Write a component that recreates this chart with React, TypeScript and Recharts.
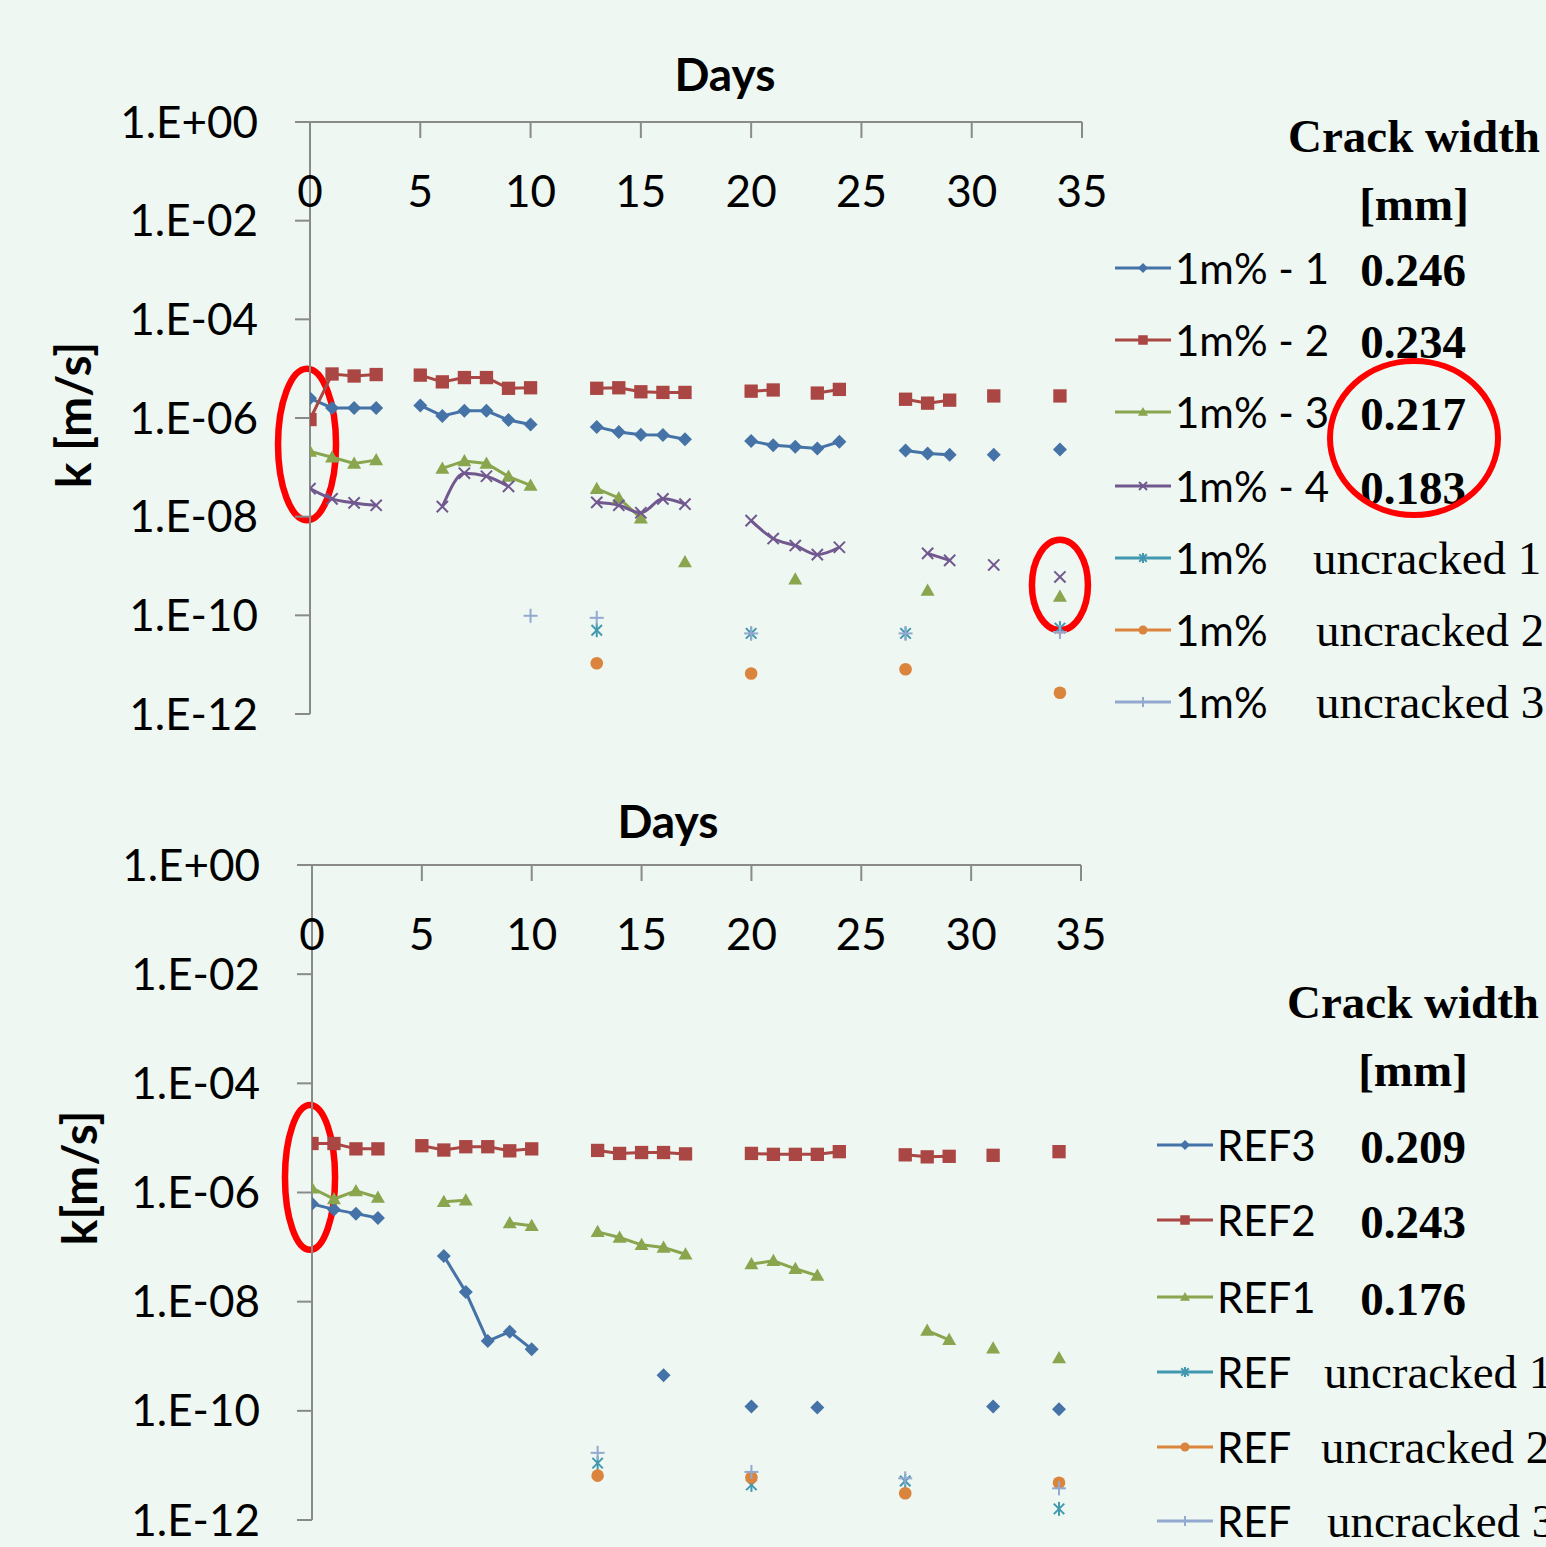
import { LineChart, Line, XAxis, YAxis, ReferenceArea } from 'recharts'

// ─── Data ─────────────────────────────────────────────────────────────────────

const _ = null

// days since cracking (shared x for both panels)
const DAYS = [
  0, 1, 2, 3, 4, 5, 6, 7, 8, 9, 10, 11, 12, 13, 14, 15, 16, 17,
  18, 19, 20, 21, 22, 23, 24, 25, 26, 27, 28, 29, 30, 31, 32, 33, 34,
]

const X_TICKS = [0, 5, 10, 15, 20, 25, 30, 35]
const Y_TICKS = [1, 1e-2, 1e-4, 1e-6, 1e-8, 1e-10, 1e-12]

// top panel: 1m% specimens, k [m/s]
const M1 = [
  2.5e-6, 1.6e-6, 1.6e-6, 1.6e-6, _, 1.8e-6, 1.1e-6, 1.4e-6, 1.4e-6, 9.1e-7,
  7.4e-7, _, _, 6.6e-7, 5.2e-7, 4.6e-7, 4.5e-7, 3.7e-7, _, _,
  3.4e-7, 2.8e-7, 2.6e-7, 2.4e-7, 3.3e-7, _, _, 2.2e-7, 1.9e-7, 1.8e-7,
  _, 1.8e-7, _, _, 2.3e-7,
]
const M2 = [
  9.3e-7, 7.8e-6, 7.1e-6, 7.6e-6, _, 7.4e-6, 5.4e-6, 6.6e-6, 6.6e-6, 4.0e-6,
  4.1e-6, _, _, 4.0e-6, 4.1e-6, 3.4e-6, 3.3e-6, 3.3e-6, _, _,
  3.5e-6, 3.7e-6, _, 3.2e-6, 3.8e-6, _, _, 2.4e-6, 2.0e-6, 2.3e-6,
  _, 2.8e-6, _, _, 2.8e-6,
]
const M3 = [
  2.1e-7, 1.6e-7, 1.2e-7, 1.4e-7, _, _, 9.5e-8, 1.35e-7, 1.2e-7, 6.5e-8,
  4.3e-8, _, _, 3.7e-8, 2.4e-8, 9.3e-9, _, 1.2e-9, _, _,
  _, _, 5.4e-10, _, _, _, _, _, 3.2e-10, _,
  _, _, _, _, 2.4e-10,
]
const M4 = [
  3.7e-8, 2.3e-8, 1.9e-8, 1.7e-8, _, _, 1.6e-8, 7.6e-8, 6.6e-8, 4.1e-8,
  _, _, _, 1.95e-8, 1.7e-8, 1.2e-8, 2.3e-8, 1.8e-8, _, _,
  8.3e-9, 3.6e-9, 2.6e-9, 1.7e-9, 2.4e-9, _, _, _, 1.8e-9, 1.3e-9,
  _, 1.05e-9, _, _, 6.0e-10,
]
const MU1 = [
  _, _, _, _, _, _, _, _, _, _, _, _, _, 5.0e-11, _, _, _, _, _, _,
  4.3e-11, _, _, _, _, _, _, 4.3e-11, _, _, _, _, _, _, 5.5e-11,
]
const MU2 = [
  _, _, _, _, _, _, _, _, _, _, _, _, _, 1.07e-11, _, _, _, _, _, _,
  6.6e-12, _, _, _, _, _, _, 8.1e-12, _, _, _, _, _, _, 2.7e-12,
]
const MU3 = [
  _, _, _, _, _, _, _, _, _, _, 9.8e-11, _, _, 8.9e-11, _, _, _, _, _, _,
  4.3e-11, _, _, _, _, _, _, 4.3e-11, _, _, _, _, _, _, 4.6e-11,
]

// bottom panel: REF specimens, k [m/s]
const R3 = [
  6.2e-7, 4.9e-7, 4.1e-7, 3.4e-7, _, _, 6.9e-8, 1.5e-8, 1.9e-9, 2.8e-9,
  1.35e-9, _, _, _, _, _, 4.5e-10, _, _, _,
  1.2e-10, _, _, 1.15e-10, _, _, _, _, _, _,
  _, 1.2e-10, _, _, 1.07e-10,
]
const R2 = [
  7.9e-6, 7.9e-6, 6.3e-6, 6.3e-6, _, 7.2e-6, 6.0e-6, 6.9e-6, 6.9e-6, 5.8e-6,
  6.3e-6, _, _, 5.9e-6, 5.2e-6, 5.4e-6, 5.4e-6, 5.1e-6, _, _,
  5.2e-6, 5.0e-6, 5.0e-6, 5.0e-6, 5.6e-6, _, _, 4.9e-6, 4.5e-6, 4.6e-6,
  _, 4.8e-6, _, _, 5.6e-6,
]
const R1 = [
  1.2e-6, 7.6e-7, 1.07e-6, 8.1e-7, _, _, 6.8e-7, 7.2e-7, _, 2.75e-7,
  2.45e-7, _, _, 1.9e-7, 1.5e-7, 1.1e-7, 9.8e-8, 7.4e-8, _, _,
  4.9e-8, 5.6e-8, 4.0e-8, 3.0e-8, _, _, _, _, 2.95e-9, 2.0e-9,
  _, 1.4e-9, _, _, 9.3e-10,
]
const RU1 = [
  _, _, _, _, _, _, _, _, _, _, _, _, _, 1.1e-11, _, _, _, _, _, _,
  4.4e-12, _, _, _, _, _, _, 5.2e-12, _, _, _, _, _, _, 1.6e-12,
]
const RU2 = [
  _, _, _, _, _, _, _, _, _, _, _, _, _, 6.5e-12, _, _, _, _, _, _,
  6.0e-12, _, _, _, _, _, _, 3.1e-12, _, _, _, _, _, _, 4.8e-12,
]
const RU3 = [
  _, _, _, _, _, _, _, _, _, _, _, _, _, 1.7e-11, _, _, _, _, _, _,
  7.6e-12, _, _, _, _, _, _, 5.8e-12, _, _, _, _, _, _, 3.8e-12,
]

// red highlight ellipses, in data coords [x1, x2, y1, y2]
const TOP_MARKS = [
  [-1.45, 1.18, 8.5e-9, 1.0e-5],
  [32.73, 35.27, 5.0e-11, 3.4e-9],
]
const BOTTOM_MARKS = [[-1.23, 1.05, 8.9e-8, 4.0e-5]]

// ─── Config ───────────────────────────────────────────────────────────────────

const BG = '#EEF7F1'
const AXIS = '#8A8A8A'
const RED_MARK = '#FF0000'
const SANS = 'Lato, "Open Sans", sans-serif'
const SERIF = '"Liberation Serif", "DejaVu Serif", serif'

const C = {
  blue: '#4572A7', red: '#AA4643', green: '#89A54E', purple: '#71588F',
  teal: '#4198AF', orange: '#DB843D', light: '#93A9CF',
}

type Shape = 'diamond' | 'square' | 'triangle' | 'x' | 'star' | 'circle' | 'plus'
type Series = {
  key: string; name: string; note?: string; bold?: string
  color: string; shape: Shape; data: (number | null)[]; smooth?: boolean
}

const TOP_SERIES: Series[] = [
  { key: 'm1', name: '1m% - 1', bold: '0.246', color: C.blue, shape: 'diamond', data: M1 },
  { key: 'm2', name: '1m% - 2', bold: '0.234', color: C.red, shape: 'square', data: M2 },
  { key: 'm3', name: '1m% - 3', bold: '0.217', color: C.green, shape: 'triangle', data: M3 },
  { key: 'm4', name: '1m% - 4', bold: '0.183', color: C.purple, shape: 'x', data: M4, smooth: true },
  { key: 'mu1', name: '1m%', note: 'uncracked 1', color: C.teal, shape: 'star', data: MU1 },
  { key: 'mu2', name: '1m%', note: 'uncracked 2', color: C.orange, shape: 'circle', data: MU2 },
  { key: 'mu3', name: '1m%', note: 'uncracked 3', color: C.light, shape: 'plus', data: MU3 },
]

const BOTTOM_SERIES: Series[] = [
  { key: 'r3', name: 'REF3', bold: '0.209', color: C.blue, shape: 'diamond', data: R3 },
  { key: 'r2', name: 'REF2', bold: '0.243', color: C.red, shape: 'square', data: R2 },
  { key: 'r1', name: 'REF1', bold: '0.176', color: C.green, shape: 'triangle', data: R1 },
  { key: 'ru1', name: 'REF', note: 'uncracked 1', color: C.teal, shape: 'star', data: RU1 },
  { key: 'ru2', name: 'REF', note: 'uncracked 2', color: C.orange, shape: 'circle', data: RU2 },
  { key: 'ru3', name: 'REF', note: 'uncracked 3', color: C.light, shape: 'plus', data: RU3 },
]

function buildRows(series: Series[]) {
  return DAYS.map((day, i) => {
    const row: Record<string, number | null> = { day }
    for (const s of series) row[s.key] = s.data[i]
    return row
  })
}

// 1e-6 → "1.E-06"
function fmtExp(v: number): string {
  const e = Math.round(Math.log10(v))
  return `1.E${e < 0 ? '-' : '+'}${String(Math.abs(e)).padStart(2, '0')}`
}

// ─── Markers ──────────────────────────────────────────────────────────────────

function Marker({ shape, cx, cy, color, s }: {
  shape: Shape; cx: number; cy: number; color: string; s: number
}) {
  switch (shape) {
    case 'diamond':
      return <path d={`M${cx},${cy - s}L${cx + s},${cy}L${cx},${cy + s}L${cx - s},${cy}Z`} fill={color} />
    case 'square':
      return <rect x={cx - s * 0.95} y={cy - s * 0.95} width={s * 1.9} height={s * 1.9} fill={color} />
    case 'triangle':
      return <path d={`M${cx},${cy - s}L${cx + s},${cy + s * 0.75}L${cx - s},${cy + s * 0.75}Z`} fill={color} />
    case 'circle':
      return <circle cx={cx} cy={cy} r={s * 0.9} fill={color} />
    case 'x':
      return (
        <g stroke={color} strokeWidth={2}>
          <line x1={cx - s * 0.8} y1={cy - s * 0.8} x2={cx + s * 0.8} y2={cy + s * 0.8} />
          <line x1={cx - s * 0.8} y1={cy + s * 0.8} x2={cx + s * 0.8} y2={cy - s * 0.8} />
        </g>
      )
    case 'star':
      return (
        <g stroke={color} strokeWidth={2}>
          <line x1={cx - s * 0.75} y1={cy - s * 0.75} x2={cx + s * 0.75} y2={cy + s * 0.75} />
          <line x1={cx - s * 0.75} y1={cy + s * 0.75} x2={cx + s * 0.75} y2={cy - s * 0.75} />
          <line x1={cx} y1={cy - s} x2={cx} y2={cy + s} />
        </g>
      )
    case 'plus':
    default:
      return (
        <g stroke={color} strokeWidth={2}>
          <line x1={cx - s} y1={cy} x2={cx + s} y2={cy} />
          <line x1={cx} y1={cy - s} x2={cx} y2={cy + s} />
        </g>
      )
  }
}

function dotFor(s: Series) {
  // eslint-disable-next-line @typescript-eslint/no-explicit-any
  return (p: any) => {
    const k = `${s.key}-${p.index}`
    if (p.cx == null || p.cy == null || p.value == null) return <g key={k} />
    return <g key={k}><Marker shape={s.shape} cx={p.cx} cy={p.cy} color={s.color} s={7} /></g>
  }
}

// eslint-disable-next-line @typescript-eslint/no-explicit-any
function Ellipse(p: any) {
  const w = Math.abs(p.width), h = Math.abs(p.height)
  return (
    <ellipse cx={p.x + p.width / 2} cy={p.y + p.height / 2} rx={w / 2} ry={h / 2}
      fill="none" stroke={RED_MARK} strokeWidth={6.5} />
  )
}

// eslint-disable-next-line @typescript-eslint/no-explicit-any
function XTick({ x, y, payload }: any) {
  return (
    <g>
      <line x1={x} y1={y} x2={x} y2={y + 16} stroke={AXIS} strokeWidth={2} />
      <text x={x} y={y + 68} textAnchor="middle" dominantBaseline="central"
        fontFamily={SANS} fontSize={44} fill="#000">{payload.value}</text>
    </g>
  )
}

// ─── Panel ────────────────────────────────────────────────────────────────────

function Panel({ series, marks, width, height, margin, yAxisWidth }: {
  series: Series[]; marks: number[][]; width: number; height: number
  margin: { top: number; right: number; bottom: number; left: number }; yAxisWidth: number
}) {
  const rows = buildRows(series)
  return (
    <LineChart width={width} height={height} data={rows} margin={margin}>
      <XAxis
        dataKey="day" type="number" orientation="top" height={2}
        domain={[0, 35]} ticks={X_TICKS} allowDataOverflow
        axisLine={{ stroke: AXIS, strokeWidth: 2 }} tickLine={false}
        tickSize={0} tickMargin={0} tick={<XTick />} interval={0}
      />
      <YAxis
        type="number" scale="log" domain={[1e-12, 1]} ticks={Y_TICKS} allowDataOverflow
        width={yAxisWidth} interval={0}
        axisLine={{ stroke: AXIS, strokeWidth: 2 }}
        tickLine={{ stroke: AXIS, strokeWidth: 2 }} tickSize={15} tickMargin={37}
        tickFormatter={fmtExp}
        tick={{ fill: '#000', fontSize: 44, fontFamily: SANS }}
      />
      {series.map(s => (
        <Line
          key={s.key} dataKey={s.key} name={s.name}
          type={s.smooth ? 'monotone' : 'linear'}
          stroke={s.color} strokeWidth={3}
          dot={dotFor(s)} activeDot={false}
          connectNulls={false} isAnimationActive={false}
        />
      ))}
      {marks.map(([x1, x2, y1, y2], i) => (
        <ReferenceArea key={i} x1={x1} x2={x2} y1={y1} y2={y2}
          ifOverflow="visible" shape={<Ellipse />} />
      ))}
    </LineChart>
  )
}

// ─── Legend ───────────────────────────────────────────────────────────────────

function Legend({ series, top, rowGap, sampleX, textX, noteX }: {
  series: Series[]; top: number; rowGap: number[]; sampleX: number; textX: number; noteX: number[]
}) {
  let noteIdx = 0
  return (
    <>
      {series.map((s, i) => {
        const cy = top + rowGap[i]
        const note = s.note ? noteX[noteIdx++] : 0
        return (
          <div key={s.key}>
            <svg style={{ position: 'absolute', left: sampleX, top: cy - 10 }} width={56} height={20}>
              <line x1={0} y1={10} x2={56} y2={10} stroke={s.color} strokeWidth={3} />
              <Marker shape={s.shape} cx={28} cy={10} color={s.color} s={5} />
            </svg>
            <div style={{ position: 'absolute', left: textX, top: cy - 30, height: 60, lineHeight: '60px',
              fontFamily: SANS, fontSize: 42, whiteSpace: 'nowrap', color: '#000' }}>{s.name}</div>
            {s.bold && (
              <div style={{ position: 'absolute', left: 1413, top: cy - 28, height: 60, lineHeight: '60px',
                transform: 'translateX(-50%)', fontFamily: SERIF, fontWeight: 'bold', fontSize: 47,
                whiteSpace: 'nowrap', color: '#000' }}>{s.bold}</div>
            )}
            {s.note && (
              <div style={{ position: 'absolute', left: note, top: cy - 30, height: 60, lineHeight: '60px',
                fontFamily: SERIF, fontSize: 47, whiteSpace: 'nowrap', color: '#000' }}>{s.note}</div>
            )}
          </div>
        )
      })}
    </>
  )
}

function Heading({ cx, cy }: { cx: number; cy: number }) {
  const st = {
    position: 'absolute' as const, left: cx, transform: 'translate(-50%, -50%)',
    fontFamily: SERIF, fontWeight: 'bold' as const, fontSize: 47, whiteSpace: 'nowrap' as const, color: '#000',
  }
  return (
    <>
      <div style={{ ...st, top: cy }}>Crack width</div>
      <div style={{ ...st, top: cy + 68 }}>[mm]</div>
    </>
  )
}

function Title({ text, x, y, rotate }: { text: string; x: number; y: number; rotate?: boolean }) {
  return (
    <div style={{
      position: 'absolute', left: x, top: y, whiteSpace: 'nowrap',
      transform: `translate(-50%, -50%)${rotate ? ' rotate(-90deg)' : ''}`,
      fontFamily: SANS, fontWeight: 'bold', fontSize: rotate ? 48 : 46, color: '#000',
    }}>{text}</div>
  )
}

// ─── App ──────────────────────────────────────────────────────────────────────

export default function App() {
  return (
    <div style={{ position: 'absolute', left: 0, top: 0, width: 1546, height: 1547,
      background: BG, overflow: 'hidden' }}>

      {/* Top panel: 1m% */}
      <div style={{ position: 'absolute', left: 0, top: 0 }}>
        <Panel series={TOP_SERIES} marks={TOP_MARKS} width={1112} height={760}
          margin={{ top: 120, right: 30, bottom: 46, left: 0 }} yAxisWidth={310} />
      </div>
      <Title text="Days" x={725} y={73} />
      <Title text="k [m/s]" x={72} y={415} rotate />
      <Heading cx={1414} cy={136} />
      <Legend series={TOP_SERIES} top={268} rowGap={[0, 72, 144, 218, 290, 362, 434]}
        sampleX={1115} textX={1175} noteX={[1313, 1316, 1316]} />
      <svg style={{ position: 'absolute', left: 1320, top: 350 }} width={190} height={176}>
        <ellipse cx={94} cy={88} rx={84} ry={77} fill="none" stroke={RED_MARK} strokeWidth={6} />
      </svg>

      {/* Bottom panel: REF */}
      <div style={{ position: 'absolute', left: 0, top: 760 }}>
        <Panel series={BOTTOM_SERIES} marks={BOTTOM_MARKS} width={1112} height={787}
          margin={{ top: 103, right: 31, bottom: 27, left: 0 }} yAxisWidth={312} />
      </div>
      <Title text="Days" x={668} y={820} />
      <Title text="k[m/s]" x={78} y={1178} rotate />
      <Heading cx={1413} cy={1002} />
      <Legend series={BOTTOM_SERIES} top={1145} rowGap={[0, 75, 152, 227, 302, 376]}
        sampleX={1157} textX={1217} noteX={[1324, 1321, 1327]} />
    </div>
  )
}
